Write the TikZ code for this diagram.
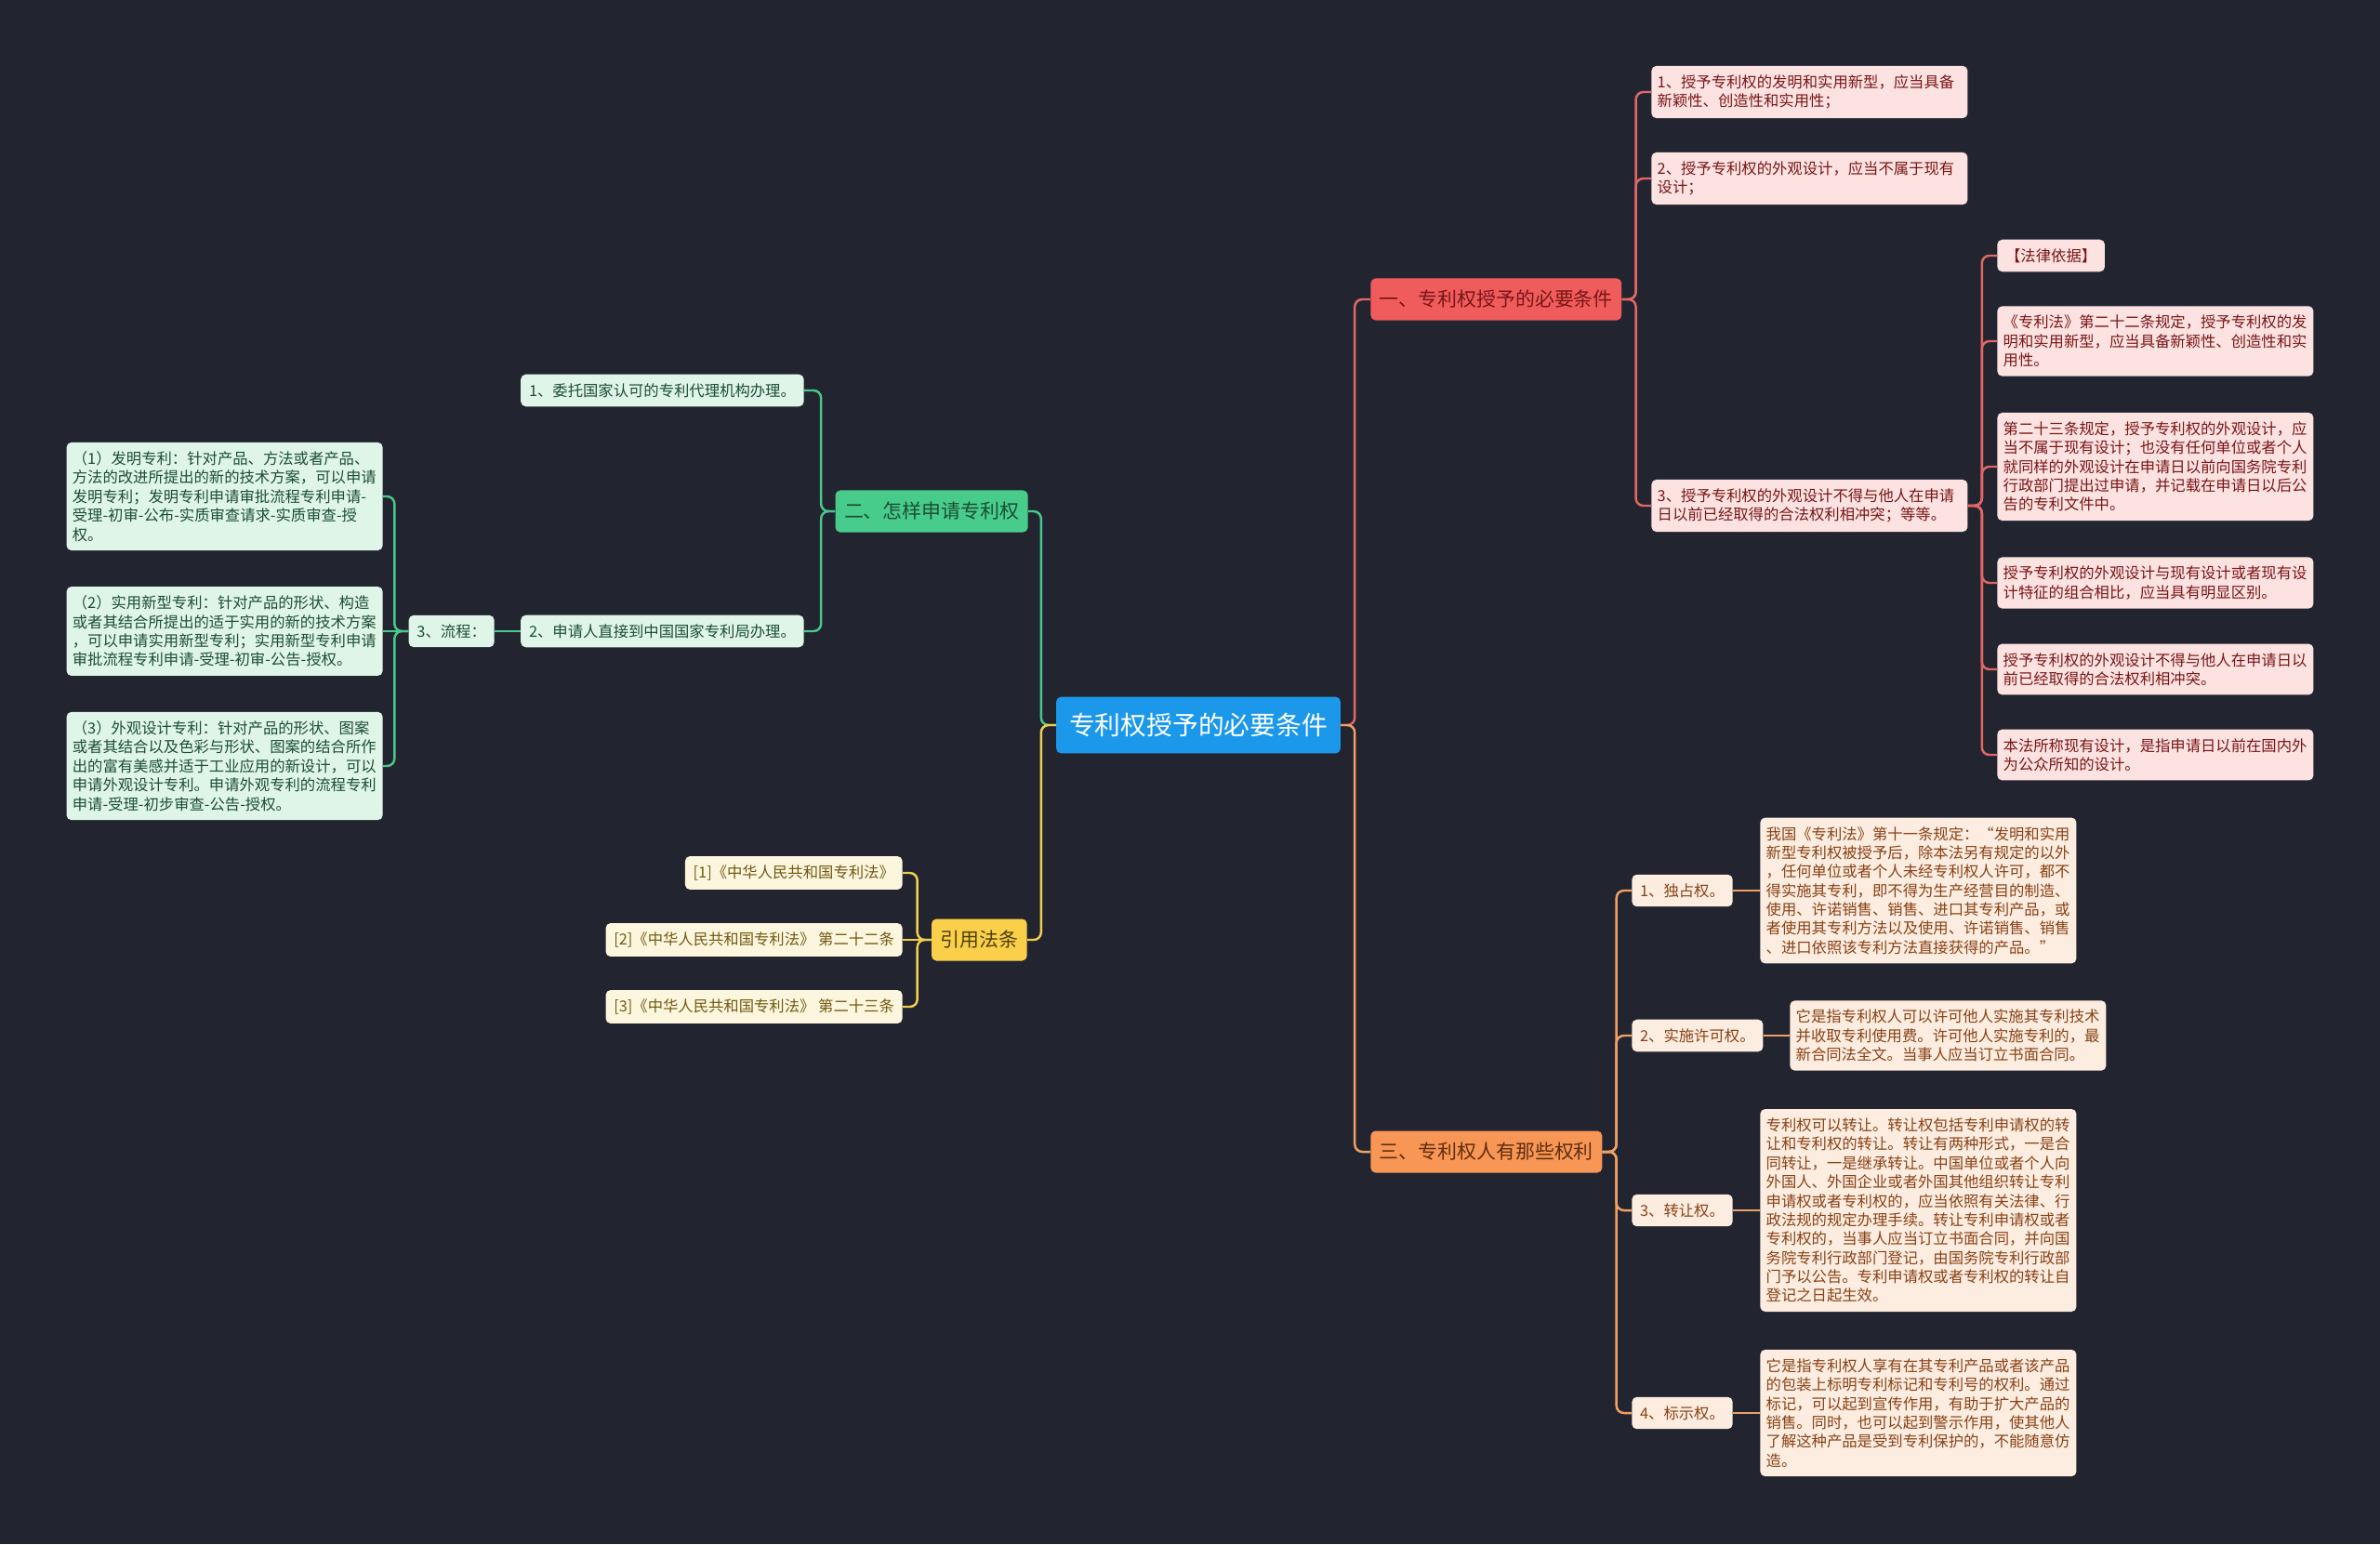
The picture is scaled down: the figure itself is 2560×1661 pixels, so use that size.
\documentclass[tikz,border=0pt]{standalone}
\usepackage{fontspec}
\newfontfamily\cjk{Noto Sans CJK SC}

\definecolor{bgdark}{RGB}{34,37,48}
\definecolor{rootblue}{RGB}{28,152,234}
\definecolor{redmain}{RGB}{240,92,92}
\definecolor{redfill}{RGB}{253,226,226}
\definecolor{redtext}{RGB}{120,22,22}
\definecolor{redline}{RGB}{226,102,102}
\definecolor{greenmain}{RGB}{72,204,140}
\definecolor{greenfill}{RGB}{223,245,232}
\definecolor{greentext}{RGB}{28,78,52}
\definecolor{greenline}{RGB}{72,200,140}
\definecolor{yellowmain}{RGB}{250,208,75}
\definecolor{yellowfill}{RGB}{253,246,222}
\definecolor{yellowtext}{RGB}{112,90,18}
\definecolor{yellowline}{RGB}{240,205,80}
\definecolor{orangemain}{RGB}{247,150,85}
\definecolor{orangefill}{RGB}{253,236,224}
\definecolor{orangetext}{RGB}{135,66,22}
\definecolor{orangeline}{RGB}{240,160,100}

\begin{document}
\begin{tikzpicture}[x=0.02cm, y=-0.02cm,
    rootbox/.style={fill=rootblue, text=white, rounded corners=3pt, inner xsep=8pt, inner ysep=10pt, font={\cjk\fontsize{15.8pt}{18pt}\selectfont}},
    mainbox/.style={rounded corners=3pt, inner xsep=5.4pt, inner ysep=7.3pt, font={\cjk\fontsize{11.9pt}{14pt}\selectfont}},
    subbox/.style={rounded corners=3pt, inner xsep=5pt, inner ysep=5.5pt, align=left, font={\cjk\fontsize{9.3pt}{11.6pt}\selectfont}},
    notebox/.style={subbox, text width=6.55cm, inner xsep=3.6pt},
    link/.style={line width=1.4pt, rounded corners=0.16cm}]

    \useasboundingbox (0,0) rectangle (2560,1661);
    \fill[bgdark] (0,0) rectangle (2560,1661);

    % Root
    \node[rootbox] (root) at (1289,780) {专利权授予的必要条件};

    % Branch 1: conditions (red)
    \node[mainbox, fill=redmain, text=redtext, anchor=west] (cond) at (1474,322) {一、专利权授予的必要条件};
    \node[notebox, fill=redfill, text=redtext, anchor=west] (cond1) at (1776,99) {1、授予专利权的发明和实用新型，应当具备\\新颖性、创造性和实用性；};
    \node[notebox, fill=redfill, text=redtext, anchor=west] (cond2) at (1776,192) {2、授予专利权的外观设计，应当不属于现有\\设计；};
    \node[notebox, fill=redfill, text=redtext, anchor=west] (cond3) at (1776,544) {3、授予专利权的外观设计不得与他人在申请\\日以前已经取得的合法权利相冲突；等等。};
    \node[subbox, fill=redfill, text=redtext, anchor=west] (basis) at (2148,275) {【法律依据】};
    \node[notebox, fill=redfill, text=redtext, anchor=west] (art22) at (2148,367) {《专利法》第二十二条规定，授予专利权的发\\明和实用新型，应当具备新颖性、创造性和实\\用性。};
    \node[notebox, fill=redfill, text=redtext, anchor=west] (art23) at (2148,502) {第二十三条规定，授予专利权的外观设计，应\\当不属于现有设计；也没有任何单位或者个人\\就同样的外观设计在申请日以前向国务院专利\\行政部门提出过申请，并记载在申请日以后公\\告的专利文件中。};
    \node[notebox, fill=redfill, text=redtext, anchor=west] (diff) at (2148,627) {授予专利权的外观设计与现有设计或者现有设\\计特征的组合相比，应当具有明显区别。};
    \node[notebox, fill=redfill, text=redtext, anchor=west] (noconf) at (2148,720) {授予专利权的外观设计不得与他人在申请日以\\前已经取得的合法权利相冲突。};
    \node[notebox, fill=redfill, text=redtext, anchor=west] (prior) at (2148,812) {本法所称现有设计，是指申请日以前在国内外\\为公众所知的设计。};

    \draw[link, redline] (root.east) -- ++(15,0) |- (cond.west);
    \draw[link, redline] (cond.east) -- ++(15,0) |- (cond1.west);
    \draw[link, redline] (cond.east) -- ++(15,0) |- (cond2.west);
    \draw[link, redline] (cond.east) -- ++(15,0) |- (cond3.west);
    \foreach \n in {basis, art22, art23, diff, noconf, prior}
        \draw[link, redline] (cond3.east) -- ++(15,0) |- (\n.west);

    % Branch 2: how to apply (green)
    \node[mainbox, fill=greenmain, text=greentext, anchor=east] (apply) at (1106,550) {二、怎样申请专利权};
    \node[subbox, fill=greenfill, text=greentext, anchor=east] (agent) at (865,420) {1、委托国家认可的专利代理机构办理。};
    \node[subbox, fill=greenfill, text=greentext, anchor=east] (direct) at (865,679) {2、申请人直接到中国国家专利局办理。};
    \node[subbox, fill=greenfill, text=greentext, anchor=east] (flow) at (532,679) {3、流程：};
    \node[notebox, fill=greenfill, text=greentext, anchor=east] (invent) at (412,534) {（1）发明专利：针对产品、方法或者产品、\\方法的改进所提出的新的技术方案，可以申请\\发明专利；发明专利申请审批流程专利申请-\\受理-初审-公布-实质审查请求-实质审查-授\\权。};
    \node[notebox, fill=greenfill, text=greentext, anchor=east] (utility) at (412,679) {（2）实用新型专利：针对产品的形状、构造\\或者其结合所提出的适于实用的新的技术方案\\，可以申请实用新型专利；实用新型专利申请\\审批流程专利申请-受理-初审-公告-授权。};
    \node[notebox, fill=greenfill, text=greentext, anchor=east] (design) at (412,824) {（3）外观设计专利：针对产品的形状、图案\\或者其结合以及色彩与形状、图案的结合所作\\出的富有美感并适于工业应用的新设计，可以\\申请外观设计专利。申请外观专利的流程专利\\申请-受理-初步审查-公告-授权。};

    \draw[link, greenline] (root.west) -- ++(-16,0) |- (apply.east);
    \draw[link, greenline] (apply.west) -- ++(-15,0) |- (agent.east);
    \draw[link, greenline] (apply.west) -- ++(-15,0) |- (direct.east);
    \draw[link, greenline] (direct.west) -- (flow.east);
    \draw[link, greenline] (flow.west) -- ++(-15,0) |- (invent.east);
    \draw[link, greenline] (flow.west) -- (utility.east);
    \draw[link, greenline] (flow.west) -- ++(-15,0) |- (design.east);

    % Branch 3: cited law (yellow)
    \node[mainbox, fill=yellowmain, text=yellowtext!70!black, anchor=east] (law) at (1105,1011) {引用法条};
    \node[subbox, fill=yellowfill, text=yellowtext, anchor=east] (law1) at (971,939) {[1]《中华人民共和国专利法》};
    \node[subbox, fill=yellowfill, text=yellowtext, anchor=east] (law2) at (971,1011) {[2]《中华人民共和国专利法》 第二十二条};
    \node[subbox, fill=yellowfill, text=yellowtext, anchor=east] (law3) at (971,1083) {[3]《中华人民共和国专利法》 第二十三条};

    \draw[link, yellowline] (root.west) -- ++(-16,0) |- (law.east);
    \draw[link, yellowline] (law.west) -- ++(-15,0) |- (law1.east);
    \draw[link, yellowline] (law.west) -- (law2.east);
    \draw[link, yellowline] (law.west) -- ++(-15,0) |- (law3.east);

    % Branch 4: rights (orange)
    \node[mainbox, fill=orangemain, text=orangetext!70!black, anchor=west] (rights) at (1474,1239) {三、专利权人有那些权利};
    \node[subbox, fill=orangefill, text=orangetext, anchor=west] (excl) at (1755,958) {1、独占权。};
    \node[subbox, fill=orangefill, text=orangetext, anchor=west] (licen) at (1755,1114) {2、实施许可权。};
    \node[subbox, fill=orangefill, text=orangetext, anchor=west] (trans) at (1755,1302) {3、转让权。};
    \node[subbox, fill=orangefill, text=orangetext, anchor=west] (mark) at (1755,1520) {4、标示权。};
    \node[notebox, fill=orangefill, text=orangetext, anchor=west] (exclnote) at (1893,958) {我国《专利法》第十一条规定：“发明和实用\\新型专利权被授予后，除本法另有规定的以外\\，任何单位或者个人未经专利权人许可，都不\\得实施其专利，即不得为生产经营目的制造、\\使用、许诺销售、销售、进口其专利产品，或\\者使用其专利方法以及使用、许诺销售、销售\\、进口依照该专利方法直接获得的产品。”};
    \node[notebox, fill=orangefill, text=orangetext, anchor=west] (licennote) at (1925,1114) {它是指专利权人可以许可他人实施其专利技术\\并收取专利使用费。许可他人实施专利的，最\\新合同法全文。当事人应当订立书面合同。};
    \node[notebox, fill=orangefill, text=orangetext, anchor=west] (transnote) at (1893,1302) {专利权可以转让。转让权包括专利申请权的转\\让和专利权的转让。转让有两种形式，一是合\\同转让，一是继承转让。中国单位或者个人向\\外国人、外国企业或者外国其他组织转让专利\\申请权或者专利权的，应当依照有关法律、行\\政法规的规定办理手续。转让专利申请权或者\\专利权的，当事人应当订立书面合同，并向国\\务院专利行政部门登记，由国务院专利行政部\\门予以公告。专利申请权或者专利权的转让自\\登记之日起生效。};
    \node[notebox, fill=orangefill, text=orangetext, anchor=west] (marknote) at (1893,1520) {它是指专利权人享有在其专利产品或者该产品\\的包装上标明专利标记和专利号的权利。通过\\标记，可以起到宣传作用，有助于扩大产品的\\销售。同时，也可以起到警示作用，使其他人\\了解这种产品是受到专利保护的，不能随意仿\\造。};

    \draw[link, orangeline] (root.east) -- ++(15,0) |- (rights.west);
    \foreach \n in {excl, licen, trans, mark}
        \draw[link, orangeline] (rights.east) -- ++(15,0) |- (\n.west);
    \draw[link, orangeline] (excl.east) -- (exclnote.west);
    \draw[link, orangeline] (licen.east) -- (licennote.west);
    \draw[link, orangeline] (trans.east) -- (transnote.west);
    \draw[link, orangeline] (mark.east) -- (marknote.west);
\end{tikzpicture}
\end{document}
